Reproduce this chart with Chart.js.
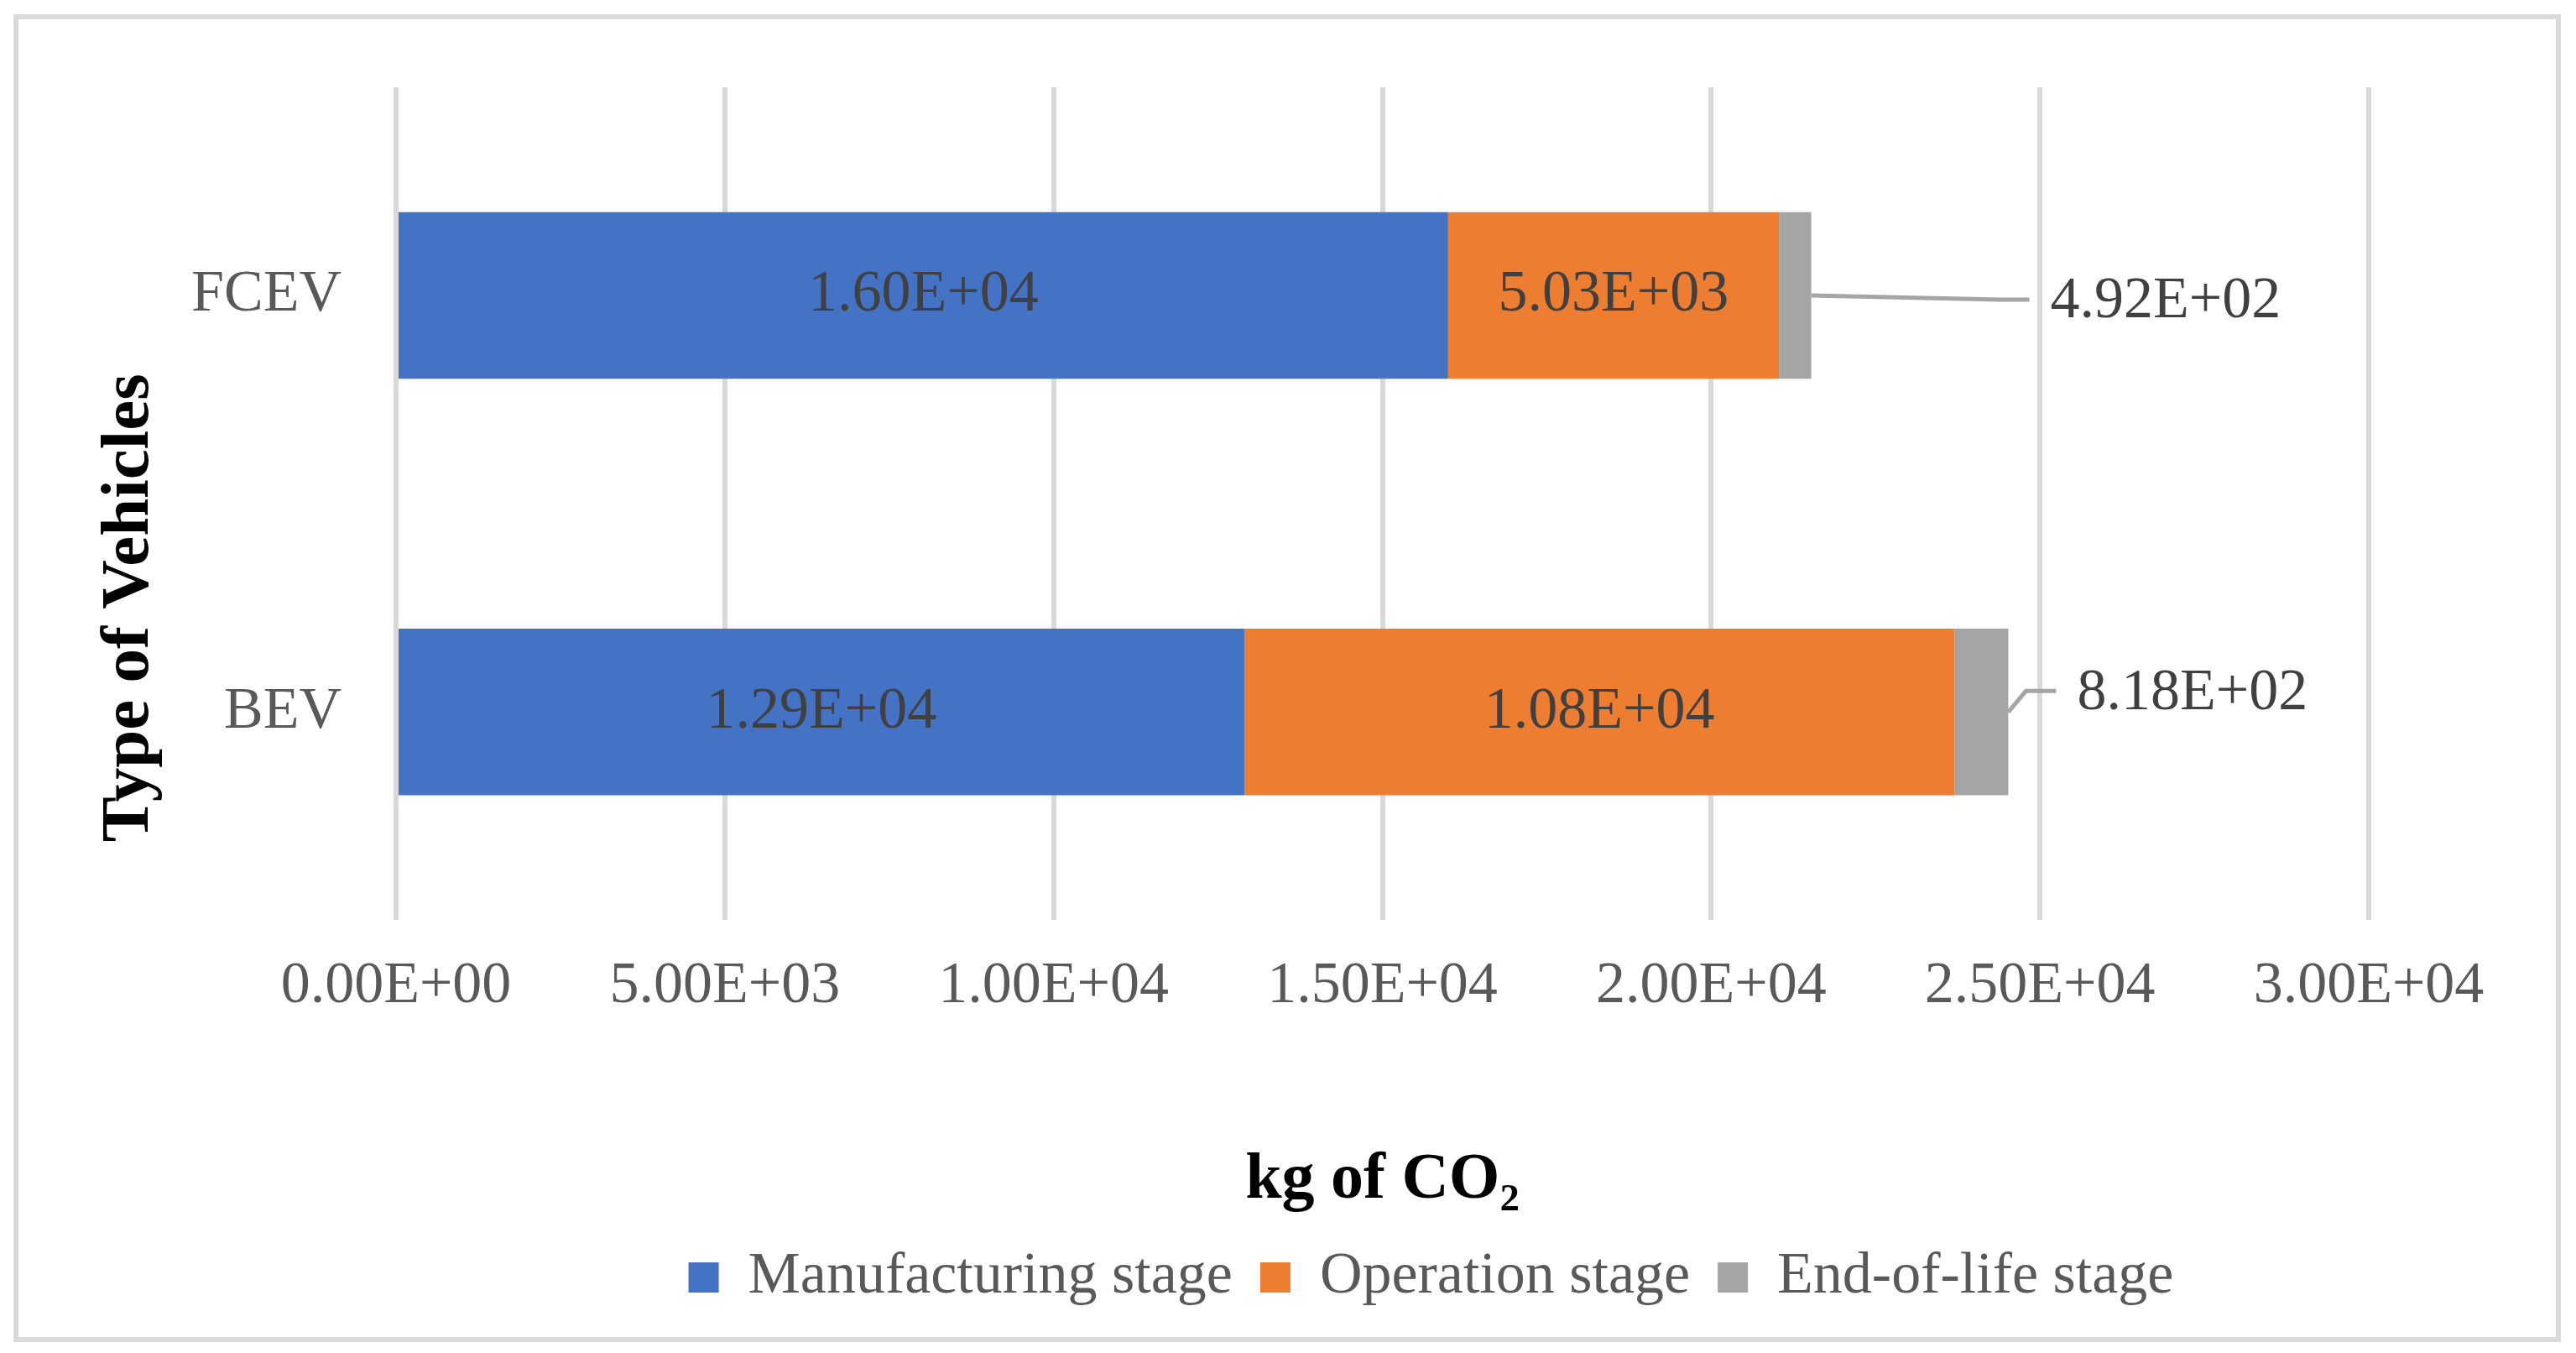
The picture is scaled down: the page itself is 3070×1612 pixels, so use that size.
<!DOCTYPE html>
<html>
<head>
<meta charset="utf-8">
<title>kg of CO2 by vehicle type</title>
<script src="https://cdn.jsdelivr.net/npm/chart.js@4.4.0/dist/chart.umd.min.js"></script>
<style>
  html, body { margin: 0; padding: 0; background: #fff; }
  #wrap { position: relative; width: 3070px; height: 1612px; }
  #frame { position: absolute; left: 16px; top: 17px; width: 3036px; height: 1582px;
           box-sizing: border-box; border: 6px solid #d9d9d9; pointer-events: none; }
</style>
</head>
<body>
<div id="wrap"><canvas id="co2Chart"></canvas><div id="frame"></div></div>
<script>
const vehicles = ['FCEV', 'BEV'];
const stageNames = ['Manufacturing stage', 'Operation stage', 'End-of-life stage'];
const manufacturing = [16000, 12900];
const operation = [5030, 10800];
const endOfLife = [492, 818];
const xMin = 0, xMax = 30000, xStep = 5000;

const serif = "'Liberation Serif', 'Times New Roman', serif";
Chart.defaults.font.family = serif;

// 16000 -> "1.60E+04"
function sci(v) {
  const parts = Number(v).toExponential(2).split('e');
  const n = parseInt(parts[1], 10);
  return parts[0] + 'E' + (n < 0 ? '-' : '+') + String(Math.abs(n)).padStart(2, '0');
}

// values inside the bars, end-of-life values outside with a leader line
const stageLabels = {
  id: 'stageLabels',
  afterDatasetsDraw(chart, args, opts) {
    const ctx = chart.ctx;
    ctx.save();
    ctx.font = '70px ' + serif;
    ctx.fillStyle = '#404040';
    ctx.textBaseline = 'middle';
    chart.data.datasets.forEach((ds, di) => {
      chart.getDatasetMeta(di).data.forEach((bar, i) => {
        const text = sci(ds.data[i]);
        if (di < 2) {
          ctx.textAlign = 'center';
          ctx.fillText(text, (bar.x + bar.base) / 2, bar.y);
        } else {
          const off = opts.outside[i];
          const lx = bar.x + off.dx, ly = bar.y + off.dy;
          ctx.strokeStyle = '#a5a5a5';
          ctx.lineWidth = 5;
          ctx.beginPath();
          ctx.moveTo(bar.x, bar.y);
          ctx.lineTo(lx - 61, ly - 3);
          ctx.lineTo(lx - 25, ly - 3);
          ctx.stroke();
          ctx.textAlign = 'left';
          ctx.fillText(text, lx, ly);
        }
      });
    });
    ctx.restore();
  }
};

// y axis title sits a bit below the middle of the plot, like the original
const sideTitle = {
  id: 'sideTitle',
  afterDraw(chart, args, opts) {
    const { ctx, chartArea } = chart;
    ctx.save();
    ctx.translate(opts.x, (chartArea.top + chartArea.bottom) / 2 + opts.shift);
    ctx.rotate(-Math.PI / 2);
    ctx.font = 'bold 81px ' + serif;
    ctx.fillStyle = '#000';
    ctx.textAlign = 'center';
    ctx.textBaseline = 'middle';
    ctx.fillText(opts.text, 0, 0);
    ctx.restore();
  }
};

const legendShift = {
  id: 'legendShift',
  afterLayout(chart, args, opts) {
    chart.legend.left += opts.dx;
    chart.legend.right += opts.dx;
  }
};

new Chart(document.getElementById('co2Chart'), {
  type: 'bar',
  data: {
    labels: vehicles,
    datasets: [
      { label: stageNames[0], data: manufacturing, backgroundColor: '#4472c4' },
      { label: stageNames[1], data: operation, backgroundColor: '#ed7d31' },
      { label: stageNames[2], data: endOfLife, backgroundColor: '#a5a5a5' }
    ]
  },
  options: {
    indexAxis: 'y',
    responsive: true,
    maintainAspectRatio: false,
    animation: false,
    datasets: { bar: { barPercentage: 0.4, categoryPercentage: 1, borderWidth: 0 } },
    layout: { padding: { left: 40, right: 247, top: 104, bottom: 45 } },
    scales: {
      x: {
        stacked: true,
        min: xMin,
        max: xMax,
        grid: { color: '#d9d9d9', lineWidth: 6, drawTicks: false },
        border: { display: false },
        ticks: {
          stepSize: xStep,
          autoSkip: false,
          maxRotation: 0,
          color: '#595959',
          font: { size: 70 },
          padding: 37,
          callback: v => sci(v)
        },
        title: {
          display: true,
          text: 'kg of CO\u2082',
          color: '#000',
          font: { size: 78, weight: 'bold' },
          padding: { top: 106, bottom: 0 }
        }
      },
      y: {
        stacked: true,
        grid: { display: false },
        border: { display: false },
        ticks: { color: '#595959', font: { size: 70 }, padding: 57 },
        afterFit: s => { s.width = 432; }
      }
    },
    plugins: {
      legend: {
        position: 'bottom',
        fullSize: false,
        labels: { boxWidth: 36, boxHeight: 36, padding: 33, color: '#595959', font: { size: 70 } }
      },
      tooltip: { enabled: false },
      stageLabels: { outside: [{ dx: 285, dy: 8 }, { dx: 82, dy: -22 }] },
      sideTitle: { text: 'Type of Vehicles', x: 155, shift: 124 },
      legendShift: { dx: 58 }
    }
  },
  plugins: [stageLabels, sideTitle, legendShift]
});
</script>
</body>
</html>
